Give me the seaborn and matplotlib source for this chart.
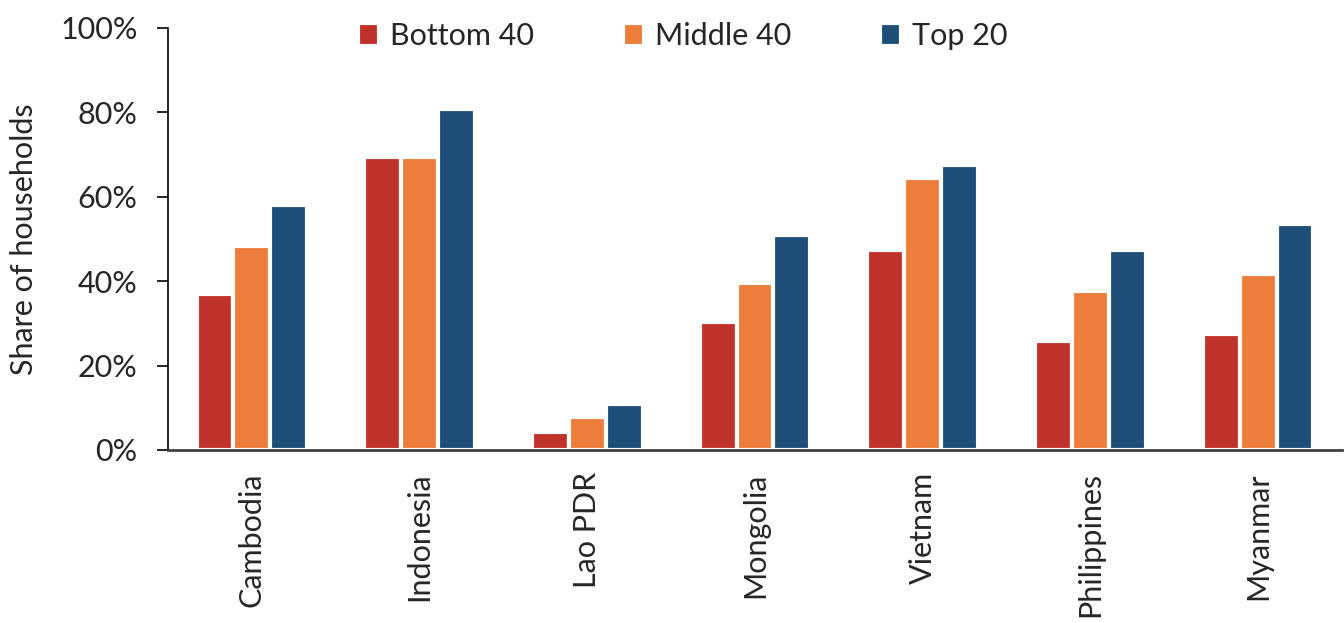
import seaborn as sns
import pandas as pd
import matplotlib.pyplot as plt
from matplotlib.ticker import PercentFormatter

# Data
countries = ['Cambodia', 'Indonesia', 'Lao PDR', 'Mongolia', 'Vietnam', 'Philippines', 'Myanmar']
bottom_40 = [37.0, 69.3, 4.2, 30.4, 47.4, 25.9, 27.4]
middle_40 = [48.3, 69.3, 7.8, 39.6, 64.4, 37.7, 41.7]
top_20 = [58.0, 80.7, 10.8, 50.9, 67.4, 47.4, 53.5]
groups = ['Bottom 40', 'Middle 40', 'Top 20']
colors = ['#C0312B', '#ED7D3B', '#1F4E79']

df = pd.DataFrame({'Country': countries * 3,
                   'Group': [g for g in groups for _ in countries],
                   'Share': bottom_40 + middle_40 + top_20})

sns.set_style('white')
plt.rcParams['font.family'] = ['Lato', 'DejaVu Sans']

fig = plt.figure(figsize=(13.44, 6.23), dpi=100)
ax = fig.add_axes([0.125, 0.2777, 0.8735, 0.6778])

sns.barplot(data=df, x='Country', y='Share', hue='Group', palette=colors,
            width=0.66, edgecolor='white', linewidth=3, saturation=1, ax=ax)

ax.set_ylim(0, 100)
ax.set_xlim(-0.5, len(countries) - 0.5)
ax.set_yticks(range(0, 101, 20))
ax.yaxis.set_major_formatter(PercentFormatter(decimals=0))
ax.set_ylabel('Share of households', fontsize=22, labelpad=16)
ax.set_xlabel('')
ax.tick_params(axis='y', labelsize=22, length=8, width=1.2, color='black',
               direction='out', left=True, pad=14)
ax.tick_params(axis='x', labelsize=22, length=0, rotation=90, pad=16)

for s in ['top', 'right']:
    ax.spines[s].set_visible(False)
ax.spines['left'].set_color('black')
ax.spines['bottom'].set_color('#404040')
ax.spines['left'].set_linewidth(1.2)
ax.spines['bottom'].set_linewidth(2)

ax.legend(loc='center left', bbox_to_anchor=(358 / 1344, 1 - 36 / 623),
          bbox_transform=fig.transFigure, ncol=3, frameon=False,
          fontsize=22, handlelength=0.7, handleheight=0.8, handletextpad=0.35,
          columnspacing=2.9, borderpad=0, borderaxespad=0)

fig.savefig('out.png', dpi=100)
